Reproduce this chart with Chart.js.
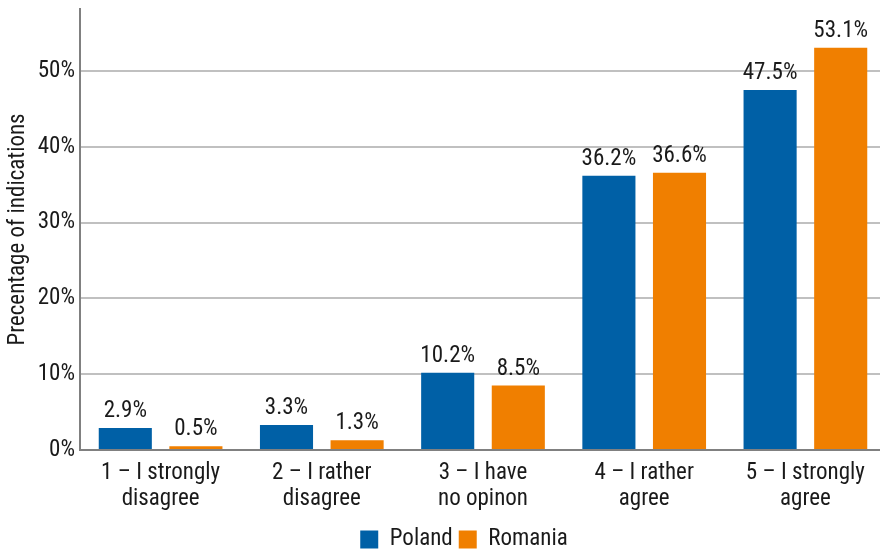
<!DOCTYPE html>
<html>
<head>
<meta charset="utf-8">
<script src="https://cdn.jsdelivr.net/npm/chart.js@4/dist/chart.umd.min.js"></script>
<style>
  html, body { margin: 0; padding: 0; background: #ffffff; overflow: hidden; }
  #wrap { width: 886px; height: 550px; position: relative; }
</style>
</head>
<body>
<div id="wrap"><canvas id="c"></canvas></div>
<script>
const categories = [
  ["1 \u2013 I strongly", "disagree"],
  ["2 \u2013 I rather", "disagree"],
  ["3 \u2013 I have", "no opinon"],
  ["4 \u2013 I rather", "agree"],
  ["5 \u2013 I strongly", "agree"]
];
const polandValues = [2.9, 3.3, 10.2, 36.2, 47.5];
const romaniaValues = [0.5, 1.3, 8.5, 36.6, 53.1];
const seriesNames = ["Poland", "Romania"];
const yTickValues = [0, 10, 20, 30, 40, 50];

const FONT = "'Roboto Condensed', 'Liberation Sans Narrow', 'DejaVu Sans Condensed', sans-serif";
const FS = 23;
const BLUE = "#0060a6";
const ORANGE = "#f07f00";

// Writes each bar's value above it
const valueLabels = {
  id: "valueLabels",
  afterDatasetsDraw(chart) {
    const ctx = chart.ctx;
    ctx.save();
    ctx.font = FS + "px " + FONT;
    ctx.fillStyle = "#1a1a1a";
    ctx.textAlign = "center";
    ctx.textBaseline = "bottom";
    chart.data.datasets.forEach((ds, di) => {
      const meta = chart.getDatasetMeta(di);
      meta.data.forEach((bar, i) => {
        ctx.fillText(ds.data[i].toFixed(1) + "%", bar.x, bar.y - 5);
      });
    });
    ctx.restore();
  }
};

// Nudges the legend lower and a little to the right of centre
const legendShift = {
  id: "legendShift",
  afterLayout(chart) {
    const lg = chart.legend;
    if (!lg) return;
    lg.left += 21; lg.right += 21;
    lg.top += 11; lg.bottom += 11;
  }
};

new Chart(document.getElementById("c"), {
  type: "bar",
  data: {
    labels: categories,
    datasets: [
      { label: seriesNames[0], data: polandValues, backgroundColor: BLUE },
      { label: seriesNames[1], data: romaniaValues, backgroundColor: ORANGE }
    ]
  },
  options: {
    responsive: true,
    maintainAspectRatio: false,
    animation: false,
    layout: { padding: { top: 9, right: 0, bottom: 0, left: 0 } },
    datasets: { bar: { categoryPercentage: 0.876, barPercentage: 0.752 } },
    plugins: {
      legend: {
        position: "bottom",
        labels: {
          font: { family: FONT, size: FS },
          color: "#1a1a1a",
          boxWidth: 18,
          boxHeight: 18,
          padding: 6
        }
      },
      tooltip: { enabled: false }
    },
    scales: {
      x: {
        grid: { display: false, drawTicks: false },
        border: { color: "#808080", width: 2 },
        ticks: {
          font: { family: FONT, size: FS, lineHeight: 1.1 },
          color: "#1a1a1a",
          padding: 11,
          maxRotation: 0,
          autoSkip: false
        },
        afterFit(scale) { scale.height = 61; }
      },
      y: {
        min: 0,
        max: 58.2,
        afterBuildTicks(scale) { scale.ticks = yTickValues.map(v => ({ value: v })); },
        grid: { color: "#c0c0c0", lineWidth: 2, drawTicks: false },
        border: { color: "#808080", width: 2 },
        ticks: {
          font: { family: FONT, size: FS },
          color: "#1a1a1a",
          padding: 5,
          callback: v => v + "%"
        },
        title: {
          display: true,
          text: "Precentage of indications",
          font: { family: FONT, size: FS },
          color: "#1a1a1a",
          padding: { top: 4, bottom: 2 }
        },
        afterFit(scale) {
          scale.width = 80;
          scale.paddingTop = 0;
          scale.paddingBottom = 0;
        }
      }
    }
  },
  plugins: [valueLabels, legendShift]
});
</script>
</body>
</html>
